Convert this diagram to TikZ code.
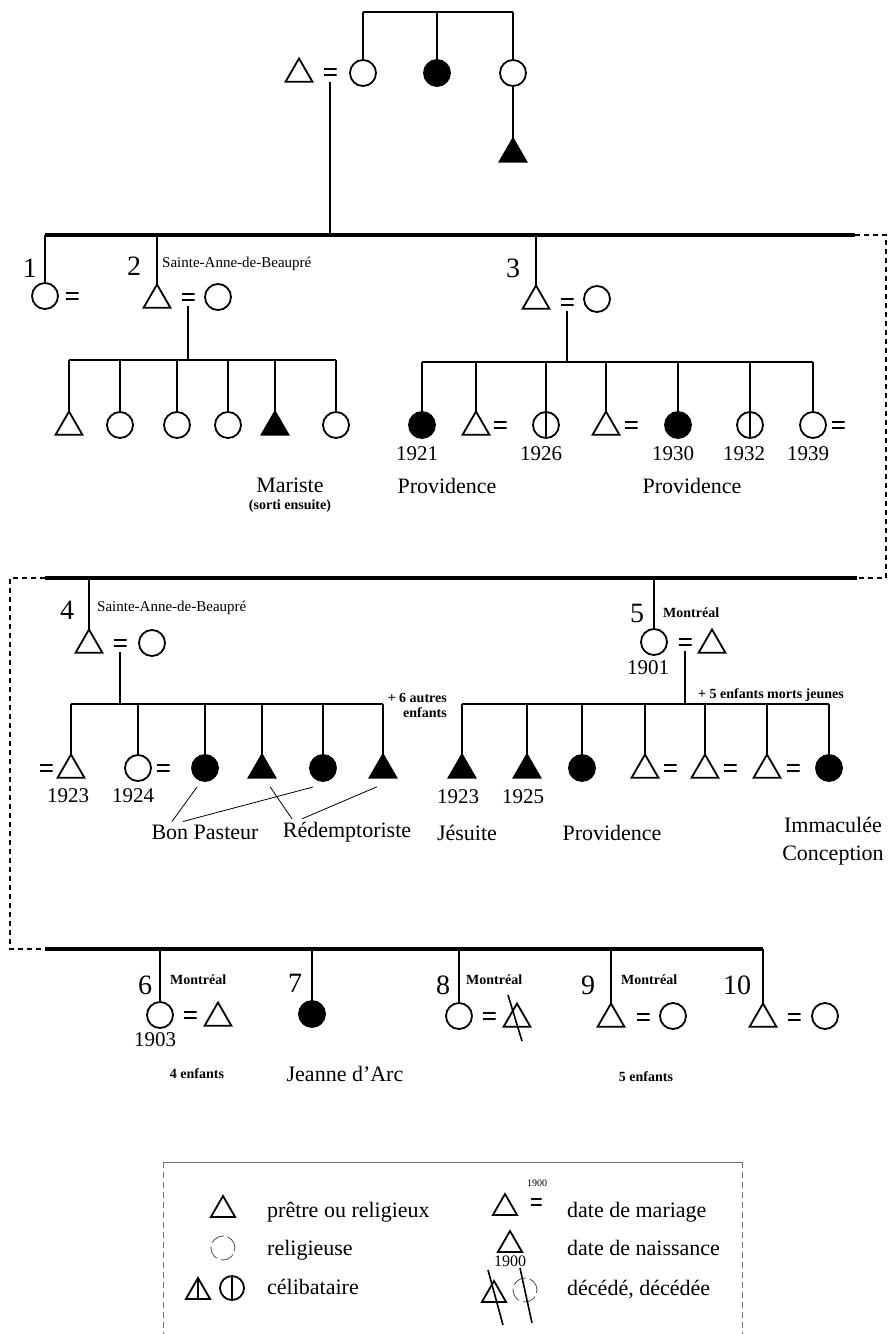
\documentclass[tikz,border=0pt]{standalone}
\usepackage{fontspec}
\setmainfont{Liberation Serif}
\usetikzlibrary{positioning,shapes.geometric,calc}

\tikzset{
  fem/.style={circle, draw, line width=1.8pt, minimum size=26pt, inner sep=0pt, outer sep=0pt},
  femR/.style={fem, fill=black},
  femC/.style={fem, path picture={\draw[line width=1.3pt] (path picture bounding box.north) -- (path picture bounding box.south);}},
  masc/.style={regular polygon, regular polygon sides=3, draw, line width=1.8pt, minimum size=31pt, inner sep=0pt, outer sep=0pt, yshift=-2pt},
  mascR/.style={masc, fill=black},
  mascC/.style={masc, path picture={\draw[line width=1.3pt] (path picture bounding box.north) -- (path picture bounding box.south);}},
  wed/.style={minimum width=13pt, minimum height=10pt, inner sep=0pt, outer sep=0pt,
    path picture={\draw[line width=2.4pt]
      ([yshift=3pt]path picture bounding box.west) -- ([yshift=3pt]path picture bounding box.east)
      ([yshift=-3pt]path picture bounding box.west) -- ([yshift=-3pt]path picture bounding box.east);}},
  num/.style={font=\fontsize{28}{30}\selectfont, inner sep=0pt},
  lab/.style={font=\fontsize{22}{28}\selectfont, inner sep=0pt},
  yr/.style={font=\fontsize{21}{23}\selectfont, inner sep=0pt},
  note/.style={font=\fontsize{14}{15}\selectfont\bfseries, inner sep=0pt},
  place/.style={font=\fontsize{15}{16}\selectfont, inner sep=0pt, anchor=west},
  bar/.style={line width=4pt},
  thin/.style={line width=1.1pt},
  link/.style={line width=2pt, dash pattern=on 5pt off 4pt},
  slash/.style={line width=1.6pt},
}

\begin{document}
\begin{tikzpicture}[x=1pt,y=-1pt]
    \useasboundingbox (0,0) rectangle (889,1334);

    % Grandparents
    \coordinate (sib0) at (437,12);
    \node[masc] (g0) at (299,72) {};
    \node[wed] (w0) at (330,72) {};
    \node[fem] (g1) at (363,73) {};
    \node[femR] (g2) at (437,73) {};
    \node[fem] (g3) at (513,73) {};
    \node[mascR] (g4) at (513,152) {};
    \draw[thin] (sib0 -| g1) -- (sib0 -| g3);
    \foreach \n in {g1,g2,g3} {
        \draw[thin] (sib0 -| \n) -- (\n.north);
    }
    \draw[thin] (g3.south) -- (g4.north);

    % Sibling lines
    \coordinate (gen1L) at (45,235);
    \coordinate (gen1R) at (855,235);
    \coordinate (gen2L) at (45,578);
    \coordinate (gen2R) at (857,578);
    \coordinate (gen3L) at (45,949);
    \coordinate (gen3R) at (763,949);
    \draw[line width=2.5pt, shorten <=5pt] (w0.south) -- (w0.south |- gen1L);
    \draw[bar] (gen1L) -- (gen1R);
    \draw[bar] (gen2L) -- (gen2R);
    \draw[bar] (gen3L) -- (gen3R);
    \draw[link] (gen1R) -- ++(31,0) |- (gen2R);
    \draw[link] (gen2L) -- ++(-35,0) |- (gen3L);

    % 1
    \node[num] (n1) at (30,268) {1};
    \node[fem] (p1) at (45,296) {};
    \node[wed] (w1) at (72,296) {};
    \draw[thin] (gen1L -| p1) -- (p1.north);

    % 2
    \node[num] (n2) at (134,266) {2};
    \node[masc] (p2) at (157,298) {};
    \node[wed] (w2) at (188,297) {};
    \node[fem] (q2) at (218,297) {};
    \node[place] (s2) at (162,264) {Sainte-Anne-de-Beaupré};
    \draw[thin] (gen1L -| p2) -- (p2.north);
    \coordinate (sib2) at (188,360);
    \draw[thin, shorten <=4pt] (w2.south) -- (sib2);
    \foreach \x/\s in {69/masc,120/fem,177/fem,228/fem,275/mascR,336/fem} {
        \node[\s] (b\x) at (\x,425) {};
        \draw[thin] (sib2 -| b\x) -- (b\x.north);
    }
    \draw[thin] (sib2 -| b69) -- (sib2 -| b336);
    \node[lab] (m2) at (290,485) {Mariste};
    \node[note] (m2b) at (290,506) {(sorti ensuite)};

    % 3
    \node[num] (n3) at (513,268) {3};
    \node[masc] (p3) at (536,299) {};
    \node[wed] (w3) at (567,302) {};
    \node[fem] (q3) at (597,299) {};
    \draw[thin] (gen1L -| p3) -- (p3.north);
    \coordinate (sib3) at (567,362);
    \draw[thin, shorten <=4pt] (w3.south) -- (sib3);
    \foreach \x/\s in {422/femR,476/masc,546/femC,606/masc,678/femR,750/femC,813/fem} {
        \node[\s] (c\x) at (\x,425) {};
        \draw[thin] (sib3 -| c\x) -- (c\x.north);
    }
    \draw[thin] (sib3 -| c422) -- (sib3 -| c813);
    \foreach \x in {500,631,838} {
        \node[wed] (cw\x) at (\x,425) {};
    }
    \foreach \x/\y in {417/1921,541/1926,673/1930,744/1932,808/1939} {
        \node[yr] (cy\y) at (\x,454) {\y};
    }
    \node[lab] (cp1) at (447,486) {Providence};
    \node[lab] (cp2) at (692,486) {Providence};

    % 4
    \node[num] (n4) at (67,610) {4};
    \node[masc] (p4) at (89,643) {};
    \node[wed] (w4) at (120,643) {};
    \node[fem] (q4) at (152,643) {};
    \node[place] (s4) at (97,608) {Sainte-Anne-de-Beaupré};
    \draw[thin] (gen2L -| p4) -- (p4.north);
    \coordinate (sib4) at (120,704);
    \draw[thin, shorten <=4pt] (w4.south) -- (sib4);
    \foreach \x/\s in {71/masc,138/fem,205/femR,262/mascR,323/femR,383/mascR} {
        \node[\s] (d\x) at (\x,768) {};
        \draw[thin] (sib4 -| d\x) -- (d\x.north);
    }
    \draw[thin] (sib4 -| d71) -- (sib4 -| d383);
    \node[wed] (dw1) at (46,768) {};
    \node[wed] (dw2) at (163,768) {};
    \node[yr] (dy1) at (68,796) {1923};
    \node[yr] (dy2) at (133,796) {1924};
    \node[note, align=right, anchor=east] (d6) at (447,705) {+ 6 autres\\enfants};
    \node[lab] (bp) at (205,832) {Bon Pasteur};
    \node[lab] (rd) at (347,832) {Rédemptoriste};
    \draw[line width=0.8pt] ([xshift=-33pt,yshift=3pt]bp.north) -- ([xshift=-8pt,yshift=-6pt]d205.south);
    \draw[line width=0.8pt] ([xshift=-22pt,yshift=3pt]bp.north) -- ([xshift=-10pt,yshift=-6pt]d323.south);
    \draw[line width=0.8pt] ([xshift=-55pt,yshift=3pt]rd.north) -- ([xshift=8pt,yshift=-9pt]d262.south);
    \draw[line width=0.8pt] ([xshift=-45pt,yshift=3pt]rd.north) -- ([xshift=-6pt,yshift=-9pt]d383.south);

    % 5
    \node[num] (n5) at (637,613) {5};
    \node[fem] (p5) at (654,642) {};
    \node[wed] (w5) at (685,642) {};
    \node[masc] (q5) at (712,643) {};
    \node[note, anchor=west] (s5) at (663,613) {Montréal};
    \node[yr] (y5) at (648,668) {1901};
    \draw[thin] (gen2L -| p5) -- (p5.north);
    \coordinate (sib5) at (685,704);
    \draw[thin, shorten <=4pt] (w5.south) -- (sib5);
    \foreach \x/\s in {462/mascR,527/mascR,582/femR,645/masc,705/masc,767/masc,829/femR} {
        \node[\s] (e\x) at (\x,768) {};
        \draw[thin] (sib5 -| e\x) -- (e\x.north);
    }
    \draw[thin] (sib5 -| e462) -- (sib5 -| e829);
    \foreach \x in {670,730,793} {
        \node[wed] (ew\x) at (\x,768) {};
    }
    \node[yr] (ey1) at (458,797) {1923};
    \node[yr] (ey2) at (523,797) {1925};
    \node[note, anchor=west] (e5) at (698,695) {+ 5 enfants morts jeunes};
    \node[lab] (ej) at (467,833) {Jésuite};
    \node[lab] (ep) at (612,833) {Providence};
    \node[lab, align=center] (ei) at (833,841) {Immaculée\\Conception};

    % 6
    \node[num] (n6) at (145,985) {6};
    \node[fem] (p6) at (160,1015) {};
    \node[wed] (w6) at (190,1015) {};
    \node[masc] (q6) at (218,1016) {};
    \node[note, anchor=west] (s6) at (170,980) {Montréal};
    \node[yr] (y6) at (155,1040) {1903};
    \node[note] (k6) at (197,1074) {4 enfants};

    % 7
    \node[num] (n7) at (295,983) {7};
    \node[femR] (p7) at (312,1014) {};
    \node[lab] (j7) at (345,1074) {Jeanne d'Arc};

    % 8
    \node[num] (n8) at (443,985) {8};
    \node[fem] (p8) at (459,1016) {};
    \node[wed] (w8) at (489,1016) {};
    \node[masc] (q8) at (517,1017) {};
    \draw[slash] ([shift={(-9,-24)}]q8.center) -- ([shift={(5,22)}]q8.center);
    \node[note, anchor=west] (s8) at (466,980) {Montréal};

    % 9
    \node[num] (n9) at (588,985) {9};
    \node[masc] (p9) at (611,1017) {};
    \node[wed] (w9) at (643,1017) {};
    \node[fem] (q9) at (673,1016) {};
    \node[note, anchor=west] (s9) at (621,980) {Montréal};
    \node[note] (k9) at (646,1077) {5 enfants};

    % 10
    \node[num] (n10) at (737,985) {10};
    \node[masc] (p10) at (763,1017) {};
    \node[wed] (w10) at (794,1017) {};
    \node[fem] (q10) at (825,1016) {};

    \foreach \n in {p6,p7,p8,p9,p10} {
        \draw[thin] (gen3L -| \n) -- (\n.north);
    }

    % Legend
    \draw[black!55, line width=0.7pt] (163,1162) -- (742,1162);
    \draw[black!55, line width=0.7pt, dash pattern=on 6pt off 4pt] (163,1162) -- (163,1334) (742,1162) -- (742,1334);
    \node[masc, minimum size=28pt] (L1) at (223,1208) {};
    \node[lab, anchor=west] (L1t) at (267,1212) {prêtre ou religieux};
    \node[fem, minimum size=24pt, line width=0.8pt, draw=black!70, dash pattern=on 14pt off 4pt] (L2) at (223,1248) {};
    \node[lab, anchor=west] (L2t) at (267,1250) {religieuse};
    \node[mascC, minimum size=28pt] (L3a) at (198,1290) {};
    \node[femC, minimum size=24pt] (L3b) at (232,1288) {};
    \node[lab, anchor=west] (L3t) at (267,1287) {célibataire};

    \node[masc, minimum size=28pt] (R1) at (505,1206) {};
    \node[font=\fontsize{10}{10}\selectfont, inner sep=0pt] (R1y) at (537,1183) {1900};
    \node[wed, minimum width=11pt] (R1w) at (536,1202) {};
    \node[lab, anchor=west] (R1t) at (567,1212) {date de mariage};
    \node[masc, minimum size=28pt] (R2) at (510,1243) {};
    \node[font=\fontsize{16}{16}\selectfont, inner sep=0pt] (R2y) at (510,1261) {1900};
    \node[lab, anchor=west] (R2t) at (567,1248) {date de naissance};
    \node[masc, minimum size=28pt] (R3a) at (494,1293) {};
    \draw[slash] ([shift={(-6,-25)}]R3a.center) -- ([shift={(9,30)}]R3a.center);
    \node[fem, minimum size=24pt, line width=0.8pt, draw=black!70, dash pattern=on 14pt off 4pt] (R3b) at (525,1290) {};
    \draw[slash] ([shift={(-5,-22)}]R3b.center) -- ([shift={(7,33)}]R3b.center);
    \node[lab, anchor=west] (R3t) at (567,1290) {décédé, décédée};
\end{tikzpicture}
\end{document}
